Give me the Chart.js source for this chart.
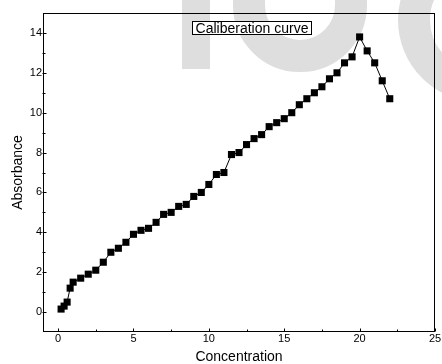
<!DOCTYPE html>
<html>
<head>
<meta charset="utf-8">
<script src="https://cdn.jsdelivr.net/npm/chart.js@4.4.1/dist/chart.umd.min.js"></script>
<style>
  html, body { margin: 0; padding: 0; background: #fff; }
  #wrap { width: 442px; height: 364px; }
</style>
</head>
<body>
<div id="wrap"><canvas id="chart" width="442" height="364"></canvas></div>
<script>
// calibration readings
const concentration = [0.2, 0.4, 0.6, 0.8, 1.0, 1.5, 2.0, 2.5, 3.0, 3.5, 4.0, 4.5, 5.0, 5.5, 6.0, 6.5,
  7.0, 7.5, 8.0, 8.5, 9.0, 9.5, 10.0, 10.5, 11.0, 11.5, 12.0, 12.5, 13.0, 13.5, 14.0, 14.5,
  15.0, 15.5, 16.0, 16.5, 17.0, 17.5, 18.0, 18.5, 19.0, 19.5, 20.0, 20.5, 21.0, 21.5, 22.0];
const absorbance = [0.15, 0.3, 0.5, 1.2, 1.5, 1.7, 1.9, 2.1, 2.5, 3.0, 3.2, 3.5, 3.9, 4.1, 4.2, 4.5,
  4.9, 5.0, 5.3, 5.4, 5.8, 6.0, 6.4, 6.9, 7.0, 7.9, 8.0, 8.4, 8.7, 8.9, 9.3, 9.5,
  9.7, 10.0, 10.4, 10.7, 11.0, 11.3, 11.7, 12.0, 12.5, 12.8, 13.8, 13.1, 12.5, 11.6, 10.7];

const xTicks = [0, 5, 10, 15, 20, 25];
const xMinorTicks = [2.5, 7.5, 12.5, 17.5, 22.5];
const yTicks = [0, 2, 4, 6, 8, 10, 12, 14];
const yMinorTicks = [1, 3, 5, 7, 9, 11, 13];

const chartTitle = "Caliberation curve";

const FONT = "'Liberation Sans', Arial, sans-serif";

const points = concentration.map((c, i) => ({ x: c, y: absorbance[i] }));

// faint grey logo shapes behind the plot
function drawBackdrop(ctx) {
  ctx.save();
  ctx.fillStyle = "#dedede";
  ctx.strokeStyle = "#dedede";
  ctx.fillRect(182, 0, 28, 69);
  // U
  ctx.lineWidth = 32;
  ctx.lineCap = "butt";
  ctx.beginPath();
  ctx.moveTo(249, 0);
  ctx.lineTo(249, 5);
  ctx.arc(300, 5, 51, Math.PI, 0, true);
  ctx.lineTo(351, 0);
  ctx.stroke();
  // C
  ctx.beginPath();
  ctx.arc(480, 20, 66, 0, Math.PI * 2);
  ctx.stroke();
  ctx.restore();
}

const framePlugin = {
  id: "frame",
  beforeDraw(chart) {
    drawBackdrop(chart.ctx);
  },
  afterDraw(chart) {
    const { ctx, chartArea: a, scales: { x, y } } = chart;
    const L = Math.round(a.left) + 0.5, R = Math.round(a.right) - 0.5;
    const T = Math.round(a.top) + 0.5, B = Math.round(a.bottom) - 0.5;
    ctx.save();
    ctx.strokeStyle = "#000";
    ctx.lineWidth = 1;
    ctx.strokeRect(L, T, R - L, B - T);

    // inward tick marks
    ctx.beginPath();
    const tickX = (v, len) => {
      const px = Math.round(x.getPixelForValue(v)) + 0.5;
      ctx.moveTo(px, B); ctx.lineTo(px, B - len);
    };
    const tickY = (v, len) => {
      const py = Math.round(y.getPixelForValue(v)) + 0.5;
      ctx.moveTo(L - 1, py); ctx.lineTo(L + len, py);
    };
    xTicks.forEach(v => tickX(v, 3));
    xMinorTicks.forEach(v => tickX(v, 2));
    yTicks.forEach(v => tickY(v, 3));
    yMinorTicks.forEach(v => tickY(v, 2));
    ctx.stroke();

    // boxed title inside the plot
    ctx.font = "14px " + FONT;
    const tw = ctx.measureText(chartTitle).width;
    const cx = a.left + a.width * 0.533;
    const bw = Math.round(tw + 6), bh = 13;
    const bx = Math.round(cx - bw / 2) + 0.5, by = Math.round(a.top + 8) + 0.5;
    ctx.fillStyle = "#fff";
    ctx.fillRect(bx, by, bw, bh);
    ctx.strokeRect(bx, by, bw, bh);
    ctx.fillStyle = "#000";
    ctx.textAlign = "center";
    ctx.textBaseline = "middle";
    ctx.fillText(chartTitle, bx + bw / 2, by + bh / 2 + 1);
    ctx.restore();
  }
};

new Chart(document.getElementById("chart"), {
  type: "scatter",
  data: {
    datasets: [{
      data: points,
      showLine: true,
      borderColor: "#000",
      borderWidth: 1,
      pointStyle: "rect",
      pointRadius: 5,
      pointBorderWidth: 0,
      pointBackgroundColor: "#000",
      tension: 0
    }]
  },
  options: {
    responsive: false,
    animation: false,
    events: [],
    layout: { padding: { left: 0, right: 7, top: 13, bottom: 0 } },
    plugins: { legend: { display: false }, tooltip: { enabled: false } },
    scales: {
      x: {
        type: "linear",
        min: -1, max: 25,
        afterBuildTicks: s => { s.ticks = xTicks.map(v => ({ value: v })); },
        afterFit: s => { s.height = 32; },
        grid: { display: false, drawTicks: false },
        border: { display: false },
        ticks: { color: "#000", font: { family: FONT, size: 11 }, padding: 0, maxRotation: 0 },
        title: { display: true, text: "Concentration", color: "#000",
                 font: { family: FONT, size: 14 }, padding: { top: 0, bottom: -2 } }
      },
      y: {
        type: "linear",
        min: -1, max: 15,
        afterBuildTicks: s => { s.ticks = yTicks.map(v => ({ value: v })); },
        afterFit: s => { s.width = 43; },
        grid: { display: false, drawTicks: false },
        border: { display: false },
        ticks: { color: "#000", font: { family: FONT, size: 11 }, padding: 1 },
        title: { display: true, text: "Absorbance", color: "#000",
                 font: { family: FONT, size: 14 }, padding: { top: 10, bottom: 0 } }
      }
    }
  },
  plugins: [framePlugin]
});
</script>
</body>
</html>
